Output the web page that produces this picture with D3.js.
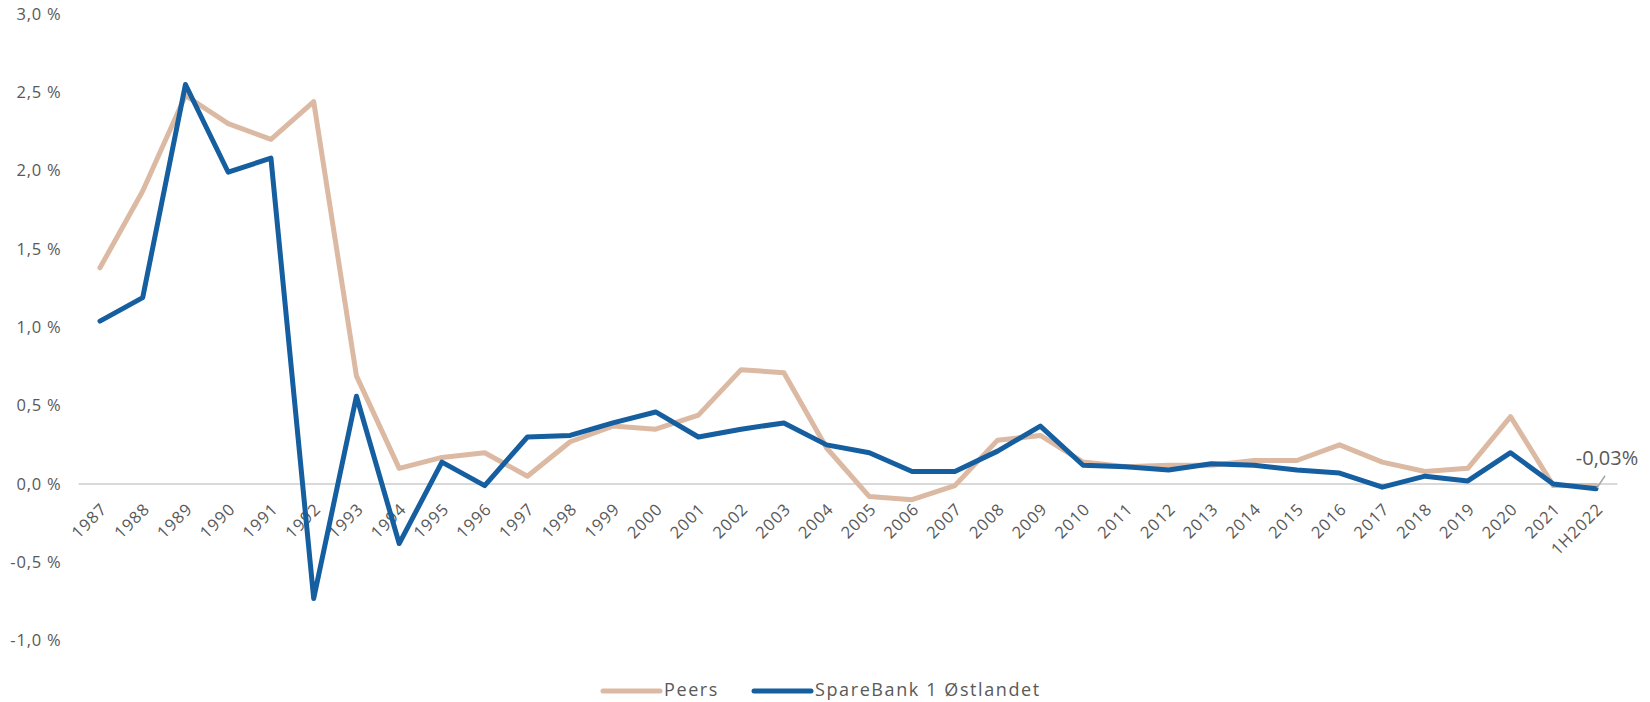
<!DOCTYPE html>
<html>
<head>
<meta charset="utf-8">
<script src="https://cdn.jsdelivr.net/npm/d3@7"></script>
<style>
  html, body { margin: 0; padding: 0; background: #fff; }
  svg { display: block; font-family: "Open Sans", Lato, sans-serif; }
</style>
</head>
<body>
<svg id="chart" width="1650" height="702"></svg>
<script>
// Loss ratio per year: peers vs. SpareBank 1 Østlandet (percent)
const categories = ["1987","1988","1989","1990","1991","1992","1993","1994","1995","1996",
  "1997","1998","1999","2000","2001","2002","2003","2004","2005","2006","2007","2008",
  "2009","2010","2011","2012","2013","2014","2015","2016","2017","2018","2019","2020",
  "2021","1H2022"];

const peers = [1.38, 1.87, 2.48, 2.30, 2.20, 2.44, 0.69, 0.10, 0.17, 0.20,
  0.05, 0.27, 0.37, 0.35, 0.44, 0.73, 0.71, 0.23, -0.08, -0.10, -0.01, 0.28,
  0.31, 0.14, 0.11, 0.12, 0.12, 0.15, 0.15, 0.25, 0.14, 0.08, 0.10, 0.43,
  -0.01, -0.01];

const sparebank = [1.04, 1.19, 2.55, 1.99, 2.08, -0.73, 0.56, -0.38, 0.14, -0.01,
  0.30, 0.31, 0.39, 0.46, 0.30, 0.35, 0.39, 0.25, 0.20, 0.08, 0.08, 0.21,
  0.37, 0.12, 0.11, 0.09, 0.13, 0.12, 0.09, 0.07, -0.02, 0.05, 0.02, 0.20,
  0.00, -0.03];

const yTicks = [-1.0, -0.5, 0.0, 0.5, 1.0, 1.5, 2.0, 2.5, 3.0];
const seriesNames = ["Peers", "SpareBank 1 Østlandet"];
const seriesColors = ["#DBB9A2", "#155E9F"];

const locale = d3.formatLocale({ decimal: ",", thousands: " ", grouping: [3], currency: ["", " kr"], minus: "-" });
const fmtTick = d => locale.format(".1f")(d) + " %";
const fmtLabel = d => locale.format(".2f")(d) + "%";

const svg = d3.select("#chart");
const textColor = "#595959";

const x = d3.scaleBand().domain(categories).range([78.6, 1617.4]).paddingInner(0).paddingOuter(0);
const cx = c => x(c) + x.bandwidth() / 2;
const y = d3.scaleLinear().domain([-1, 3]).range([640.7, 14]);

// Y axis labels (no axis line, no gridlines)
const yAxis = d3.axisLeft(y).tickValues(yTicks).tickFormat(fmtTick).tickSize(0).tickPadding(0);
const gy = svg.append("g").attr("transform", "translate(61.5,0)").call(yAxis);
gy.select(".domain").remove();
gy.selectAll("text")
  .attr("fill", textColor)
  .attr("font-size", "16.5px")
  .attr("letter-spacing", "0.8px")
  .attr("font-family", "Open Sans, Lato, sans-serif");

// Horizontal axis at zero
svg.append("line")
  .attr("x1", x.range()[0]).attr("x2", x.range()[1])
  .attr("y1", y(0)).attr("y2", y(0))
  .attr("stroke", "#D9D9D9").attr("stroke-width", 2);

// Rotated category labels
svg.append("g").selectAll("text")
  .data(categories)
  .join("text")
  .attr("transform", d => `translate(${cx(d) + 4},506) rotate(-45)`)
  .attr("text-anchor", "end")
  .attr("dy", "0.35em")
  .attr("fill", textColor)
  .attr("font-size", "16.5px")
  .attr("letter-spacing", "1px")
  .text(d => d);

// Lines
const line = d3.line()
  .x((d, i) => cx(categories[i]))
  .y(d => y(d));

[peers, sparebank].forEach((s, k) => {
  svg.append("path")
    .datum(s)
    .attr("d", line)
    .attr("fill", "none")
    .attr("stroke", seriesColors[k])
    .attr("stroke-width", 5)
    .attr("stroke-linejoin", "round")
    .attr("stroke-linecap", "round");
});

// Value label for the last SpareBank point
const lastIdx = categories.length - 1;
const lastVal = sparebank[lastIdx];
const px = cx(categories[lastIdx]), py = y(lastVal);
svg.append("line")
  .attr("x1", px + 1).attr("y1", py - 1)
  .attr("x2", px + 9).attr("y2", py - 13)
  .attr("stroke", "#A6A6A6").attr("stroke-width", 1.5);
svg.append("text")
  .attr("x", px + 11).attr("y", py - 24)
  .attr("text-anchor", "middle")
  .attr("fill", textColor)
  .attr("font-size", "20px")
  .text(fmtLabel(lastVal));

// Legend
const legendX = [603, 754];
const legendY = 690;
const lg = svg.append("g");
seriesNames.forEach((name, k) => {
  lg.append("line")
    .attr("x1", legendX[k]).attr("x2", legendX[k] + 57)
    .attr("y1", legendY + 1).attr("y2", legendY + 1)
    .attr("stroke", seriesColors[k]).attr("stroke-width", 5)
    .attr("stroke-linecap", "round");
  lg.append("text")
    .attr("x", legendX[k] + 61).attr("y", legendY)
    .attr("dy", "0.35em")
    .attr("fill", textColor)
    .attr("font-size", "18px")
    .attr("letter-spacing", "1.6px")
    .text(name);
});
</script>
</body>
</html>
